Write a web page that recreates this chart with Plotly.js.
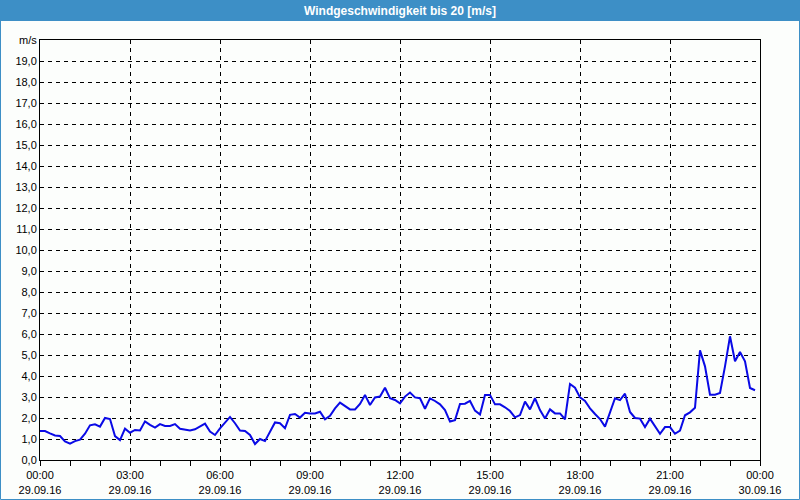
<!DOCTYPE html>
<html>
<head>
<meta charset="utf-8">
<script src="https://cdn.plot.ly/plotly-3.0.1.min.js"></script>
<style>
html,body{margin:0;padding:0;background:#fcfefc;}
#chart{width:800px;height:500px;}
</style>
</head>
<body>
<div id="chart"></div>
<script>
// Wind speed in m/s, one reading every 10 minutes from 29.09.16 00:00
var stepMinutes = 10;
var windSpeed = [
  1.38,1.38,1.27,1.17,1.14,0.88,0.78,0.90,0.97,1.25,1.65,1.70,
  1.59,2.00,1.95,1.14,0.95,1.49,1.30,1.43,1.41,1.84,1.67,1.54,
  1.71,1.62,1.62,1.71,1.49,1.45,1.41,1.46,1.60,1.73,1.35,1.19,
  1.51,1.79,2.05,1.75,1.40,1.38,1.19,0.76,1.00,0.90,1.35,1.79,
  1.75,1.51,2.15,2.19,2.02,2.25,2.22,2.22,2.30,1.94,2.10,2.46,
  2.73,2.59,2.41,2.41,2.67,3.10,2.62,2.98,3.02,3.44,2.94,2.86,
  2.70,3.02,3.21,2.98,2.94,2.44,2.94,2.81,2.65,2.38,1.83,1.90,
  2.67,2.68,2.81,2.35,2.17,3.10,3.10,2.65,2.65,2.51,2.33,2.03,
  2.14,2.78,2.41,2.94,2.38,1.98,2.41,2.22,2.22,1.94,3.62,3.44,
  2.98,2.81,2.46,2.19,1.95,1.59,2.30,2.94,2.85,3.16,2.29,2.00,
  1.97,1.57,1.97,1.60,1.25,1.57,1.57,1.25,1.40,2.13,2.27,2.49,
  5.22,4.46,3.11,3.11,3.19,4.46,5.89,4.70,5.14,4.70,3.43,3.32
];
var xTickHours = [0,3,6,9,12,15,18,21,24];
var xTickTimes = ["00:00","03:00","06:00","09:00","12:00","15:00","18:00","21:00","00:00"];
var xTickDates = ["29.09.16","29.09.16","29.09.16","29.09.16","29.09.16","29.09.16","29.09.16","29.09.16","30.09.16"];
var yTickValues = [0,1,2,3,4,5,6,7,8,9,10,11,12,13,14,15,16,17,18,19,20];
var yTickLabels = ["0,0","1,0","2,0","3,0","4,0","5,0","6,0","7,0","8,0","9,0","10,0",
  "11,0","12,0","13,0","14,0","15,0","16,0","17,0","18,0","19,0","m/s"];
var titleText = "Windgeschwindigkeit bis 20 [m/s]";

var hours = windSpeed.map(function(v,i){ return i*stepMinutes/60; });
var xTickText = xTickTimes.map(function(t,i){ return t + "<br>" + xTickDates[i]; });

var W = 800, H = 500, ml = 40, mr = 40, mt = 40, mb = 40;
var pw = W - ml - mr, ph = H - mt - mb;
function px2x(px){ return (px - ml)/pw; }
function py2y(py){ return (H - mb - py)/ph; }

var font = {family: "Liberation Sans, Arial, sans-serif", size: 11, color: "#000000"};
var blue = "#3d8fc6";

var trace = {
  x: hours, y: windSpeed, type: "scatter", mode: "lines",
  line: {color: "#0a0ae6", width: 2},
  hoverinfo: "skip"
};

var layout = {
  width: W, height: H,
  margin: {l: ml, r: mr, t: mt, b: mb, pad: 0},
  paper_bgcolor: "#fcfefc",
  plot_bgcolor: "#fcfefc",
  showlegend: false,
  font: font,
  title: {
    text: titleText,
    font: {family: "Liberation Sans, Arial, sans-serif", size: 12, color: "#ffffff", weight: "bold"},
    x: 0.5, xanchor: "center", xref: "paper",
    y: 1 - 11/H, yanchor: "middle", yref: "container"
  },
  xaxis: {
    range: [0, 24], fixedrange: true,
    tickmode: "array", tickvals: xTickHours, ticktext: xTickText,
    ticks: "outside", ticklen: 5, tickcolor: "#000", tickwidth: 1,
    minor: {ticks: "outside", ticklen: 5, dtick: 1, tick0: 0, tickcolor: "#000", showgrid: false},
    showgrid: true, gridcolor: "#000000", gridwidth: 1, griddash: "4px,4px",
    showline: true, linecolor: "#000", linewidth: 1, mirror: true,
    zeroline: false, tickfont: font
  },
  yaxis: {
    range: [0, 20], fixedrange: true,
    tickmode: "array", tickvals: yTickValues, ticktext: yTickLabels,
    ticks: "", showgrid: true, gridcolor: "#000000", gridwidth: 1, griddash: "4px,4px",
    showline: true, linecolor: "#000", linewidth: 1, mirror: true,
    zeroline: false, tickfont: font
  },
  shapes: [
    {type: "rect", xref: "paper", yref: "paper",
     x0: px2x(0), x1: px2x(800), y0: py2y(21), y1: py2y(0),
     fillcolor: blue, line: {width: 0}, layer: "below"},
    {type: "rect", xref: "paper", yref: "paper",
     x0: px2x(0.5), x1: px2x(799.5), y0: py2y(499.5), y1: py2y(0.5),
     fillcolor: "rgba(0,0,0,0)", line: {color: blue, width: 1}, layer: "above"}
  ]
};

Plotly.newPlot("chart", [trace], layout, {displayModeBar: false, staticPlot: true});
</script>
</body>
</html>
